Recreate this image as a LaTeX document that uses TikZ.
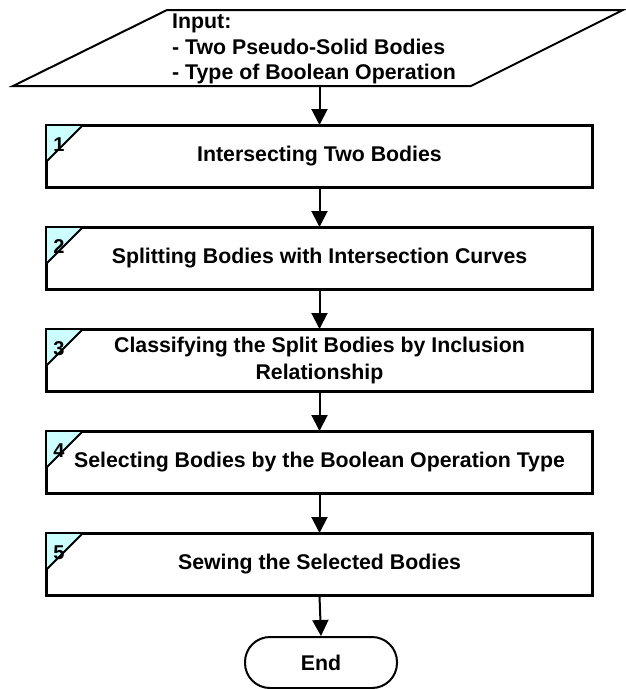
\documentclass[tikz,border=0pt]{standalone}
\usepackage{fontspec}
\setmainfont{Liberation Sans}
\usetikzlibrary{arrows.meta}
\definecolor{tagfill}{HTML}{CCFFFF}
\begin{document}
\begin{tikzpicture}[x=1pt,y=-1pt,
  outline/.style={line width=2pt, line join=miter},
  stepbox/.style={outline, draw, fill=white, minimum width=545pt, minimum height=61pt,
    inner sep=0pt, align=center, font=\fontsize{21.3}{26.5}\selectfont\bfseries},
  terminal/.style={outline, draw, rounded corners=25pt, minimum width=152pt,
    minimum height=51pt, inner sep=0pt, font=\fontsize{21.3}{26}\selectfont\bfseries},
  tagnum/.style={font=\fontsize{20}{22}\selectfont\bfseries, inner sep=0pt},
  flow/.style={line width=2pt, -{Triangle[width=16pt,length=16pt]}}
]
\useasboundingbox (0,0) rectangle (625,689);

% input parallelogram
\coordinate (pTL) at (167,10);
\coordinate (pTR) at (623,10);
\coordinate (pBR) at (471,86);
\coordinate (pBL) at (13,86);
\coordinate (pBot) at (319.5,86);
\draw[outline] (pTL) -- (pTR) -- (pBR) -- (pBL) -- cycle;
\node[anchor=north west, inner sep=0pt, align=left,
      font=\fontsize{21.3}{25.5}\selectfont\bfseries] (input) at (172,14)
  {Input:\\- Two Pseudo-Solid Bodies\\- Type of Boolean Operation};

% processing steps
\node[stepbox] (s1) at (319.5,156.5) {Intersecting Two Bodies};
\node[stepbox] (s2) at (319.5,258.5) {Splitting Bodies with Intersection Curves};
\node[stepbox] (s3) at (319.5,360.5) {Classifying the Split Bodies by Inclusion\\Relationship};
\node[stepbox] (s4) at (319.5,462.5) {Selecting Bodies by the Boolean Operation Type};
\node[stepbox] (s5) at (319.5,564.5) {Sewing the Selected Bodies};

% numbered corner tags
\foreach \s/\n in {s1/1,s2/2,s3/3,s4/4,s5/5}{
  \fill[tagfill] (\s.north west) -- ++(37,0) -- ++(-37,37) -- cycle;
  \draw[outline] ([xshift=37pt]\s.north west) -- ([yshift=-37pt]\s.north west);
  \node[tagnum] (\s num) at ([xshift=13pt,yshift=-19.5pt]\s.north west) {\n};
  \draw[outline] (\s.north west) rectangle (\s.south east);
}

% end terminal
\node[terminal] (end) at (321,662.5) {End};

% connectors
\draw[flow] (pBot) -- (s1.north);
\draw[flow] (s1.south) -- (s2.north);
\draw[flow] (s2.south) -- (s3.north);
\draw[flow] (s3.south) -- (s4.north);
\draw[flow] (s4.south) -- (s5.north);
\draw[flow] (s5.south) -- (end.north);
\end{tikzpicture}
\end{document}
